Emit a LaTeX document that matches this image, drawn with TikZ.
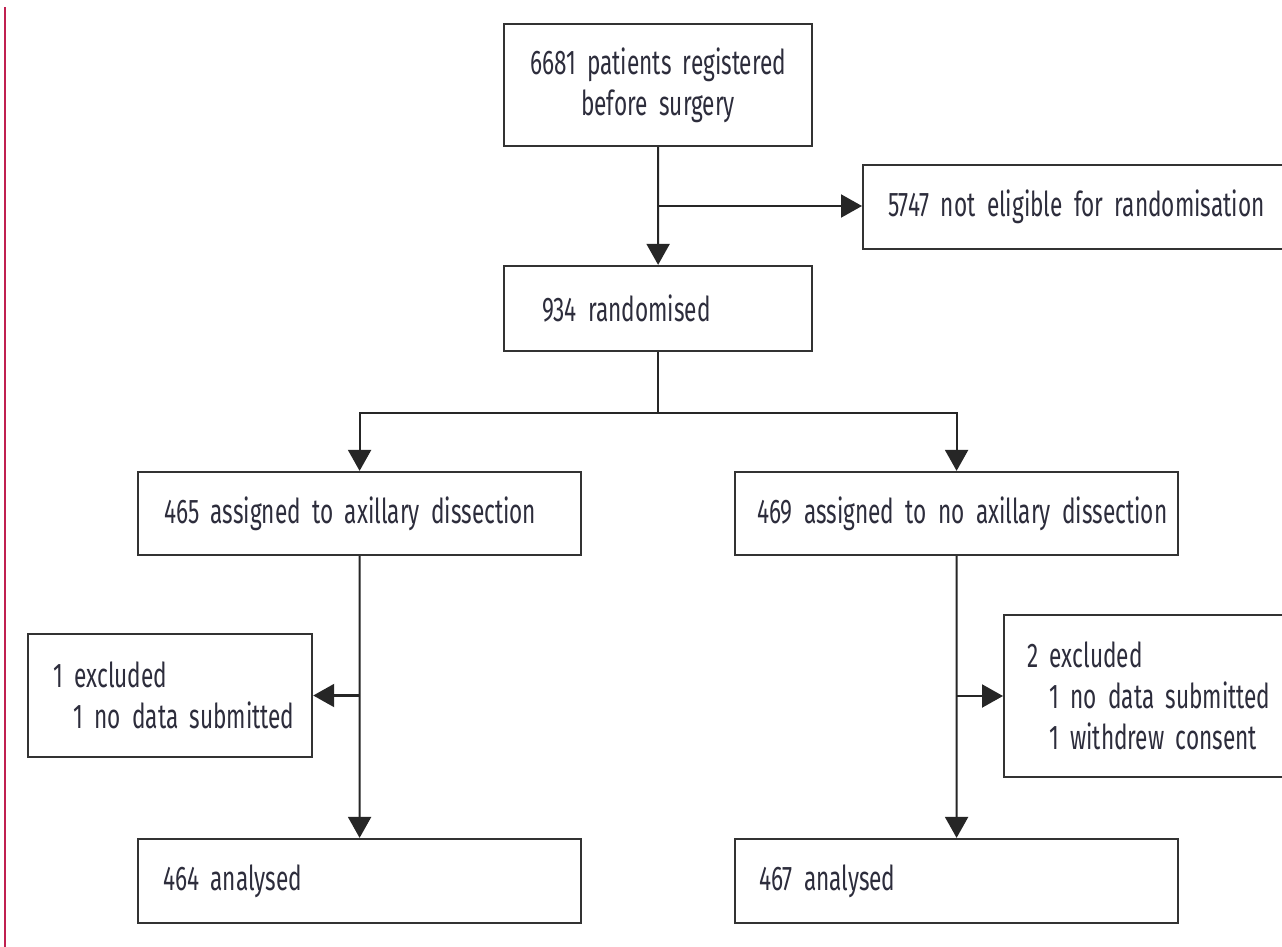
\documentclass[tikz,border=0pt]{standalone}
\usepackage{fontspec}
\setmainfont{Fira Sans}[FakeStretch=0.66]
\usetikzlibrary{arrows.meta, positioning, calc}

\definecolor{margin}{RGB}{192,32,80}
\definecolor{ink}{RGB}{45,45,60}

\begin{document}
\begin{tikzpicture}[
        x=0.02cm, y=-0.02cm,
        box/.style={draw=black!80, line width=1.3pt, rectangle, inner ysep=0pt,
            text=ink, align=left, font=\fontsize{19.5}{23.5}\selectfont},
        link/.style={draw=black!85, line width=1.2pt},
        tri/.style={link, -{Triangle[length=0.42cm, width=0.46cm]}},
    ]
        \useasboundingbox (0,0) rectangle (1282,947);
        \fill[white] (0,0) rectangle (1282,947);
        \clip (0,0) rectangle (1282,947);

        % Margin rule
        \draw[margin, line width=1.7pt] (5,7) -- (5,947);

        % Registration and randomisation
        \node[box, anchor=west, minimum height=2.44cm, text width=5.16cm, inner xsep=0.5cm, align=center]
            (reg) at (503,85) {\mbox{6681 patients registered}\\\mbox{before surgery}};
        \node[box, anchor=west, minimum height=1.68cm, text width=7.76cm, inner xsep=0.5cm]
            (notelig) at (862,207) {\mbox{5747 not eligible for randomisation}};
        \node[box, anchor=west, minimum height=1.7cm, text width=4.64cm, inner xsep=0.76cm]
            (rand) at (503,308.5) {934 randomised};

        % Two arms
        \node[box, anchor=west, minimum height=1.66cm, text width=7.82cm, inner xsep=0.52cm]
            (armA) at (137,513.5) {\mbox{465 assigned to axillary dissection}};
        \node[box, anchor=west, minimum height=1.66cm, text width=7.98cm, inner xsep=0.44cm]
            (armB) at (734,513.5) {\mbox{469 assigned to no axillary dissection}};

        % Exclusions
        \node[box, anchor=west, minimum height=2.46cm, text width=4.68cm, inner xsep=0.5cm]
            (exclA) at (27,695.5) {1 excluded\\\hspace*{0.4cm}\mbox{1 no data submitted}};
        \node[box, anchor=west, minimum height=3.24cm, text width=5.02cm, inner xsep=0.46cm]
            (exclB) at (1003,696) {2 excluded\\\hspace*{0.44cm}\mbox{1 no data submitted}\\\hspace*{0.44cm}\mbox{1 withdrew consent}};

        % Analysed
        \node[box, anchor=west, minimum height=1.68cm, text width=7.86cm, inner xsep=0.5cm]
            (anaA) at (137,881) {464 analysed};
        \node[box, anchor=west, minimum height=1.68cm, text width=7.9cm, inner xsep=0.48cm]
            (anaB) at (734,881) {467 analysed};

        % Connectors
        \draw[tri] (reg) -- (rand);
        \coordinate (split) at ($(reg.south)!0.5!(rand.north)$);
        \draw[tri] (split) -- (split -| notelig.west);

        \draw[link] (rand.south) -- ++(0,61) coordinate (fork);
        \draw[tri] (fork) -| (armA.north);
        \draw[tri] (fork) -| (armB.north);

        \draw[tri] (armA) -- (anaA);
        \draw[tri] (exclA.east -| armA.south) -- (exclA.east);
        \draw[tri] (armB) -- (anaB);
        \draw[tri] (exclB.west -| armB.south) -- (exclB.west);
    \end{tikzpicture}
\end{document}
